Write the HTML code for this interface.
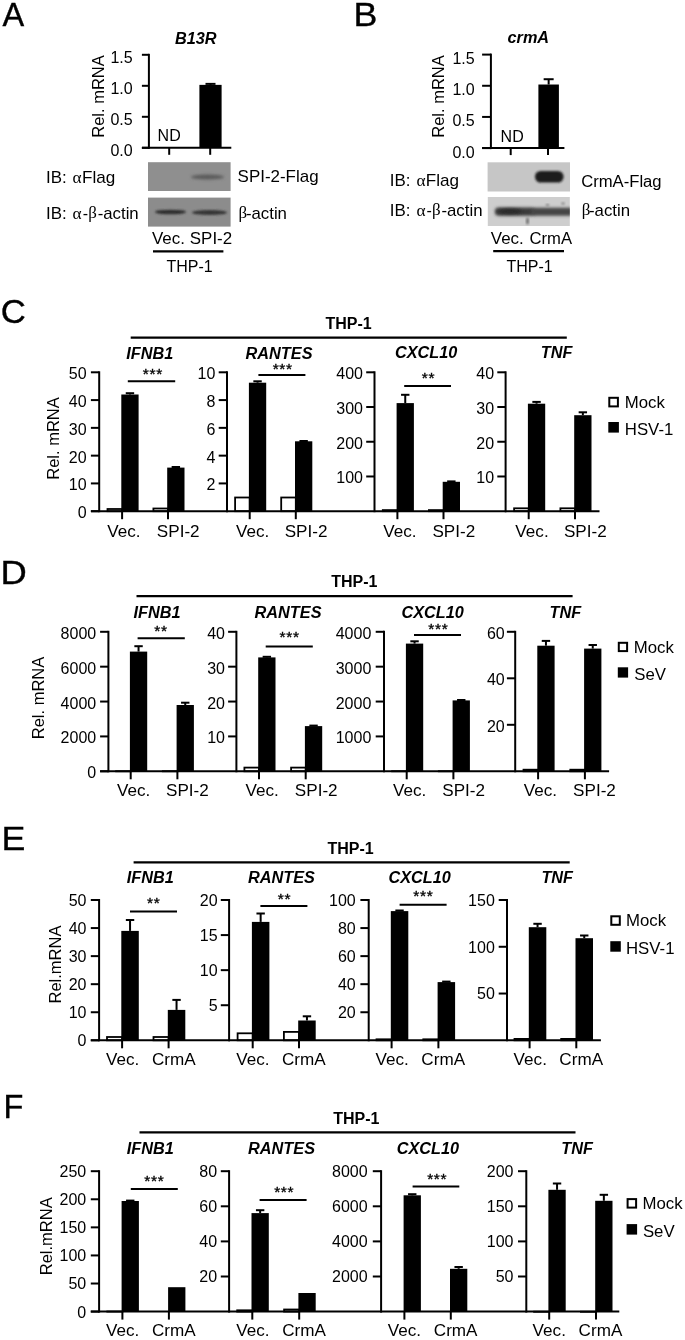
<!DOCTYPE html>
<html><head><meta charset="utf-8"><title>Figure</title>
<style>
html,body{margin:0;padding:0;background:#fff;}
svg{display:block;will-change:transform;}
svg text{font-family:"Liberation Sans",sans-serif;fill:#000;}
svg line{stroke:#000;}
</style></head><body>
<svg width="685" height="1340" viewBox="0 0 685 1340">
<defs>
<clipPath id="cpB2"><rect x="487.8" y="197" width="82" height="29"/></clipPath>
<filter id="bl10" x="-20%" y="-50%" width="140%" height="200%"><feGaussianBlur stdDeviation="1.0"/></filter>
<filter id="bl12" x="-20%" y="-50%" width="140%" height="200%"><feGaussianBlur stdDeviation="1.2"/></filter>
<filter id="bl15" x="-20%" y="-50%" width="140%" height="200%"><feGaussianBlur stdDeviation="1.5"/></filter>
</defs>
<rect width="685" height="1340" fill="#fff"/>
<text x="0" y="0" font-size="32.5" stroke="#000" stroke-width="0.35" transform="translate(2.6,26.4) scale(1.0,1)">A</text>
<text x="0" y="0" font-size="32.5" stroke="#000" stroke-width="0.35" transform="translate(353.4,26.0) scale(1.1,1)">B</text>
<text x="0" y="0" font-size="32.5" stroke="#000" stroke-width="0.35" transform="translate(0.8,323.2) scale(1.07,1)">C</text>
<text x="0" y="0" font-size="32.5" stroke="#000" stroke-width="0.35" transform="translate(0.6,584.4) scale(1.12,1)">D</text>
<text x="0" y="0" font-size="32.5" stroke="#000" stroke-width="0.35" transform="translate(1.6,849.8) scale(1.1,1)">E</text>
<text x="0" y="0" font-size="32.5" stroke="#000" stroke-width="0.35" transform="translate(3.4,1117.8) scale(1.0,1)">F</text>
<line x1="148.90" y1="53.80" x2="148.90" y2="148.80" stroke-width="2.0"/>
<line x1="141.90" y1="147.80" x2="148.90" y2="147.80" stroke-width="2.0"/>
<text x="132.70" y="156.40" font-size="16" text-anchor="end">0.0</text>
<line x1="141.90" y1="116.80" x2="148.90" y2="116.80" stroke-width="2.0"/>
<text x="132.70" y="125.40" font-size="16" text-anchor="end">0.5</text>
<line x1="141.90" y1="85.80" x2="148.90" y2="85.80" stroke-width="2.0"/>
<text x="132.70" y="94.40" font-size="16" text-anchor="end">1.0</text>
<line x1="141.90" y1="54.80" x2="148.90" y2="54.80" stroke-width="2.0"/>
<text x="132.70" y="63.40" font-size="16" text-anchor="end">1.5</text>
<line x1="141.90" y1="147.80" x2="231.30" y2="147.80" stroke-width="2.0"/>
<line x1="169.20" y1="147.80" x2="169.20" y2="154.80" stroke-width="2.0"/>
<line x1="210.20" y1="147.80" x2="210.20" y2="154.80" stroke-width="2.0"/>
<rect x="199.40" y="84.87" width="22.20" height="62.93" fill="#000" stroke="none"/>
<line x1="210.50" y1="83.88" x2="210.50" y2="84.87" stroke-width="2"/>
<line x1="205.50" y1="83.88" x2="215.50" y2="83.88" stroke-width="2"/>
<text x="157.60" y="141.00" font-size="16">ND</text>
<text x="0" y="0" transform="translate(174.90,43.80) scale(0.97,1)" font-size="16.8" font-weight="bold" font-style="italic">B13R</text>
<text x="0" y="0" font-size="16.5" text-anchor="middle" transform="translate(103.60,96.50) rotate(-90)">Rel. mRNA</text>
<line x1="490.90" y1="53.60" x2="490.90" y2="149.10" stroke-width="2.0"/>
<line x1="482.10" y1="148.10" x2="490.90" y2="148.10" stroke-width="2.0"/>
<text x="474.70" y="157.50" font-size="16" text-anchor="end">0.0</text>
<line x1="482.10" y1="116.93" x2="490.90" y2="116.93" stroke-width="2.0"/>
<text x="474.70" y="126.33" font-size="16" text-anchor="end">0.5</text>
<line x1="482.10" y1="85.77" x2="490.90" y2="85.77" stroke-width="2.0"/>
<text x="474.70" y="95.17" font-size="16" text-anchor="end">1.0</text>
<line x1="482.10" y1="54.60" x2="490.90" y2="54.60" stroke-width="2.0"/>
<text x="474.70" y="64.00" font-size="16" text-anchor="end">1.5</text>
<line x1="482.10" y1="148.10" x2="564.40" y2="148.10" stroke-width="2.0"/>
<line x1="510.70" y1="148.10" x2="510.70" y2="155.10" stroke-width="2.0"/>
<line x1="548.00" y1="148.10" x2="548.00" y2="155.10" stroke-width="2.0"/>
<rect x="538.40" y="84.52" width="20.50" height="63.58" fill="#000" stroke="none"/>
<line x1="548.65" y1="79.22" x2="548.65" y2="84.52" stroke-width="2"/>
<line x1="543.65" y1="79.22" x2="553.65" y2="79.22" stroke-width="2"/>
<text x="500.60" y="142.00" font-size="16">ND</text>
<text x="0" y="0" transform="translate(507.50,43.40) scale(0.97,1)" font-size="16.8" font-weight="bold" font-style="italic">crmA</text>
<text x="0" y="0" font-size="16.5" text-anchor="middle" transform="translate(444.30,96.50) rotate(-90)">Rel. mRNA</text>
<rect x="148.00" y="162.20" width="82.60" height="28.80" fill="#8f8f8f" stroke="none"/>
<ellipse cx="207.50" cy="177.00" rx="16.50" ry="2.60" fill="#5a5a5a" opacity="1.0" filter="url(#bl15)"/>
<rect x="148.00" y="197.60" width="82.60" height="29.00" fill="#8c8c8c" stroke="none"/>
<ellipse cx="170.50" cy="212.00" rx="15.50" ry="2.30" fill="#2e2e2e" opacity="1.0" filter="url(#bl12)"/>
<ellipse cx="209.50" cy="212.50" rx="17.50" ry="2.60" fill="#343434" opacity="1.0" filter="url(#bl12)"/>
<rect x="487.60" y="162.30" width="82.40" height="29.20" fill="#c6c6c6" stroke="none"/>
<rect x="535" y="171" width="28.5" height="11.5" rx="5.5" fill="#1e1e1e" filter="url(#bl12)"/>
<rect x="487.80" y="197.00" width="82.00" height="29.00" fill="#cecece" stroke="none"/>
<g clip-path="url(#cpB2)"><rect x="494.8" y="207.4" width="40" height="8.4" rx="4" fill="#3a3a3a" filter="url(#bl15)"/><rect x="531" y="207.8" width="45" height="8.0" rx="4" fill="#444" filter="url(#bl15)"/><ellipse cx="510" cy="211.4" rx="12" ry="2.6" fill="#2c2c2c" filter="url(#bl15)"/><ellipse cx="527.5" cy="221" rx="1.3" ry="3.5" fill="#666" filter="url(#bl10)"/><ellipse cx="547.5" cy="205" rx="1.8" ry="0.9" fill="#777" filter="url(#bl10)"/><ellipse cx="563" cy="203.5" rx="1.8" ry="1" fill="#777" filter="url(#bl10)"/></g>
<text x="0" y="0" transform="translate(46.00,182.60) scale(1.06,1)" font-size="16">IB:</text>
<text x="72.60" y="182.60" font-size="17.3" style="font-family:'Liberation Serif',serif">α</text>
<text x="0" y="0" transform="translate(82.00,182.60) scale(1.07,1)" font-size="16">Flag</text>
<text x="0" y="0" transform="translate(46.00,218.60) scale(1.06,1)" font-size="16">IB:</text>
<text x="72.60" y="218.60" font-size="17.3" style="font-family:'Liberation Serif',serif">α</text>
<text x="82.80" y="218.60" font-size="16">-</text>
<text x="88.30" y="217.80" font-size="17.0" style="font-family:'Liberation Serif',serif">β</text>
<text x="0" y="0" transform="translate(97.65,218.60) scale(1.05,1)" font-size="16">-actin</text>
<text x="238.60" y="217.80" font-size="17.0" style="font-family:'Liberation Serif',serif">β</text>
<text x="0" y="0" transform="translate(245.90,218.60) scale(1.05,1)" font-size="16">-actin</text>
<text x="0" y="0" transform="translate(389.80,185.60) scale(1.06,1)" font-size="16">IB:</text>
<text x="416.40" y="185.60" font-size="17.3" style="font-family:'Liberation Serif',serif">α</text>
<text x="0" y="0" transform="translate(425.80,185.60) scale(1.07,1)" font-size="16">Flag</text>
<text x="0" y="0" transform="translate(389.80,216.10) scale(1.06,1)" font-size="16">IB:</text>
<text x="416.40" y="216.10" font-size="17.3" style="font-family:'Liberation Serif',serif">α</text>
<text x="426.60" y="216.10" font-size="16">-</text>
<text x="432.10" y="215.30" font-size="17.0" style="font-family:'Liberation Serif',serif">β</text>
<text x="0" y="0" transform="translate(441.45,216.10) scale(1.05,1)" font-size="16">-actin</text>
<text x="581.70" y="215.20" font-size="17.0" style="font-family:'Liberation Serif',serif">β</text>
<text x="0" y="0" transform="translate(589.00,216.00) scale(1.05,1)" font-size="16">-actin</text>
<text x="0" y="0" transform="translate(237.60,182.40) scale(1.06,1)" font-size="16">SPI-2-Flag</text>
<text x="0" y="0" transform="translate(152.00,244.00) scale(1.06,1)" font-size="16">Vec.</text>
<text x="0" y="0" transform="translate(189.80,244.00) scale(1.06,1)" font-size="16">SPI-2</text>
<line x1="153.00" y1="251.40" x2="223.40" y2="251.40" stroke-width="2.2"/>
<text x="166.50" y="272.40" font-size="16">THP-1</text>
<text x="0" y="0" transform="translate(581.20,187.00) scale(1.04,1)" font-size="16">CrmA-Flag</text>
<text x="0" y="0" transform="translate(490.80,244.00) scale(1.06,1)" font-size="16">Vec.</text>
<text x="0" y="0" transform="translate(529.50,244.00) scale(1.04,1)" font-size="16">CrmA</text>
<line x1="493.20" y1="251.20" x2="564.00" y2="251.20" stroke-width="2.2"/>
<text x="506.50" y="272.40" font-size="16">THP-1</text>
<line x1="130.70" y1="337.60" x2="566.80" y2="337.60" stroke-width="2.2"/>
<text x="325.50" y="328.60" font-size="16" font-weight="bold">THP-1</text>
<rect x="107.50" y="509.00" width="14.60" height="2.20" fill="#fff" stroke="#000" stroke-width="1.8"/>
<rect x="121.30" y="394.50" width="17.30" height="116.70" fill="#000" stroke="none"/>
<line x1="129.95" y1="393.20" x2="129.95" y2="394.50" stroke-width="2"/>
<line x1="125.75" y1="393.20" x2="134.15" y2="393.20" stroke-width="2"/>
<line x1="122.10" y1="511.20" x2="122.10" y2="519.20" stroke-width="2.0"/>
<rect x="153.40" y="508.50" width="14.60" height="2.70" fill="#fff" stroke="#000" stroke-width="1.8"/>
<rect x="167.20" y="467.60" width="17.30" height="43.60" fill="#000" stroke="none"/>
<line x1="175.85" y1="467.00" x2="175.85" y2="467.60" stroke-width="2"/>
<line x1="171.65" y1="467.00" x2="180.05" y2="467.00" stroke-width="2"/>
<line x1="168.00" y1="511.20" x2="168.00" y2="519.20" stroke-width="2.0"/>
<line x1="99.20" y1="371.30" x2="99.20" y2="512.20" stroke-width="2.0"/>
<line x1="90.90" y1="511.20" x2="99.20" y2="511.20" stroke-width="2.0"/>
<text x="86.60" y="518.20" font-size="16" text-anchor="end">0</text>
<line x1="90.90" y1="483.42" x2="99.20" y2="483.42" stroke-width="2.0"/>
<text x="86.60" y="490.42" font-size="16" text-anchor="end">10</text>
<line x1="90.90" y1="455.64" x2="99.20" y2="455.64" stroke-width="2.0"/>
<text x="86.60" y="462.64" font-size="16" text-anchor="end">20</text>
<line x1="90.90" y1="427.86" x2="99.20" y2="427.86" stroke-width="2.0"/>
<text x="86.60" y="434.86" font-size="16" text-anchor="end">30</text>
<line x1="90.90" y1="400.08" x2="99.20" y2="400.08" stroke-width="2.0"/>
<text x="86.60" y="407.08" font-size="16" text-anchor="end">40</text>
<line x1="90.90" y1="372.30" x2="99.20" y2="372.30" stroke-width="2.0"/>
<text x="86.60" y="379.30" font-size="16" text-anchor="end">50</text>
<line x1="90.90" y1="511.20" x2="227.00" y2="511.20" stroke-width="2.0"/>
<text x="0" y="0" transform="translate(126.30,358.60) scale(0.97,1)" font-size="16.8" font-weight="bold" font-style="italic">IFNB1</text>
<line x1="127.80" y1="381.20" x2="175.20" y2="381.20" stroke-width="2"/>
<text x="152.85" y="379.40" font-size="15.5" text-anchor="middle" letter-spacing="0.7" stroke="#000" stroke-width="0.35">***</text>
<text x="0" y="0" transform="translate(123.85,536.50) scale(1.07,1)" font-size="16" text-anchor="middle">Vec.</text>
<text x="0" y="0" transform="translate(178.20,536.50) scale(1.07,1)" font-size="16" text-anchor="middle">SPI-2</text>
<rect x="235.10" y="497.50" width="14.60" height="13.70" fill="#fff" stroke="#000" stroke-width="1.8"/>
<rect x="248.90" y="382.70" width="17.30" height="128.50" fill="#000" stroke="none"/>
<line x1="257.55" y1="381.30" x2="257.55" y2="382.70" stroke-width="2"/>
<line x1="253.35" y1="381.30" x2="261.75" y2="381.30" stroke-width="2"/>
<line x1="249.70" y1="511.20" x2="249.70" y2="519.20" stroke-width="2.0"/>
<rect x="281.20" y="497.50" width="14.60" height="13.70" fill="#fff" stroke="#000" stroke-width="1.8"/>
<rect x="295.00" y="441.30" width="17.30" height="69.90" fill="#000" stroke="none"/>
<line x1="303.65" y1="441.00" x2="303.65" y2="441.30" stroke-width="2"/>
<line x1="299.45" y1="441.00" x2="307.85" y2="441.00" stroke-width="2"/>
<line x1="295.80" y1="511.20" x2="295.80" y2="519.20" stroke-width="2.0"/>
<line x1="227.00" y1="371.30" x2="227.00" y2="512.20" stroke-width="2.0"/>
<line x1="218.70" y1="483.42" x2="227.00" y2="483.42" stroke-width="2.0"/>
<text x="215.40" y="490.42" font-size="16" text-anchor="end">2</text>
<line x1="218.70" y1="455.64" x2="227.00" y2="455.64" stroke-width="2.0"/>
<text x="215.40" y="462.64" font-size="16" text-anchor="end">4</text>
<line x1="218.70" y1="427.86" x2="227.00" y2="427.86" stroke-width="2.0"/>
<text x="215.40" y="434.86" font-size="16" text-anchor="end">6</text>
<line x1="218.70" y1="400.08" x2="227.00" y2="400.08" stroke-width="2.0"/>
<text x="215.40" y="407.08" font-size="16" text-anchor="end">8</text>
<line x1="218.70" y1="372.30" x2="227.00" y2="372.30" stroke-width="2.0"/>
<text x="215.40" y="379.30" font-size="16" text-anchor="end">10</text>
<line x1="227.00" y1="511.20" x2="374.50" y2="511.20" stroke-width="2.0"/>
<text x="0" y="0" transform="translate(245.60,358.60) scale(0.97,1)" font-size="16.8" font-weight="bold" font-style="italic">RANTES</text>
<line x1="258.40" y1="374.90" x2="305.40" y2="374.90" stroke-width="2"/>
<text x="282.75" y="373.50" font-size="15.5" text-anchor="middle" letter-spacing="0.7" stroke="#000" stroke-width="0.35">***</text>
<text x="0" y="0" transform="translate(252.55,536.50) scale(1.07,1)" font-size="16" text-anchor="middle">Vec.</text>
<text x="0" y="0" transform="translate(306.00,536.50) scale(1.07,1)" font-size="16" text-anchor="middle">SPI-2</text>
<rect x="382.80" y="510.10" width="14.60" height="1.10" fill="#fff" stroke="#000" stroke-width="1.8"/>
<rect x="396.60" y="403.10" width="17.30" height="108.10" fill="#000" stroke="none"/>
<line x1="405.25" y1="394.80" x2="405.25" y2="403.10" stroke-width="2"/>
<line x1="401.05" y1="394.80" x2="409.45" y2="394.80" stroke-width="2"/>
<line x1="397.40" y1="511.20" x2="397.40" y2="519.20" stroke-width="2.0"/>
<rect x="428.90" y="510.10" width="14.60" height="1.10" fill="#fff" stroke="#000" stroke-width="1.8"/>
<rect x="442.70" y="481.80" width="17.30" height="29.40" fill="#000" stroke="none"/>
<line x1="451.35" y1="481.40" x2="451.35" y2="481.80" stroke-width="2"/>
<line x1="447.15" y1="481.40" x2="455.55" y2="481.40" stroke-width="2"/>
<line x1="443.50" y1="511.20" x2="443.50" y2="519.20" stroke-width="2.0"/>
<line x1="374.50" y1="371.30" x2="374.50" y2="512.20" stroke-width="2.0"/>
<line x1="366.20" y1="476.48" x2="374.50" y2="476.48" stroke-width="2.0"/>
<text x="363.00" y="483.48" font-size="16" text-anchor="end">100</text>
<line x1="366.20" y1="441.75" x2="374.50" y2="441.75" stroke-width="2.0"/>
<text x="363.00" y="448.75" font-size="16" text-anchor="end">200</text>
<line x1="366.20" y1="407.02" x2="374.50" y2="407.02" stroke-width="2.0"/>
<text x="363.00" y="414.02" font-size="16" text-anchor="end">300</text>
<line x1="366.20" y1="372.30" x2="374.50" y2="372.30" stroke-width="2.0"/>
<text x="363.00" y="379.30" font-size="16" text-anchor="end">400</text>
<line x1="374.50" y1="511.20" x2="506.00" y2="511.20" stroke-width="2.0"/>
<text x="0" y="0" transform="translate(394.90,358.40) scale(0.97,1)" font-size="16.8" font-weight="bold" font-style="italic">CXCL10</text>
<line x1="404.20" y1="386.00" x2="451.00" y2="386.00" stroke-width="2"/>
<text x="428.45" y="383.10" font-size="15.5" text-anchor="middle" letter-spacing="0.7" stroke="#000" stroke-width="0.35">**</text>
<text x="0" y="0" transform="translate(399.85,536.50) scale(1.07,1)" font-size="16" text-anchor="middle">Vec.</text>
<text x="0" y="0" transform="translate(453.75,536.50) scale(1.07,1)" font-size="16" text-anchor="middle">SPI-2</text>
<rect x="514.10" y="508.30" width="14.60" height="2.90" fill="#fff" stroke="#000" stroke-width="1.8"/>
<rect x="527.90" y="403.70" width="17.30" height="107.50" fill="#000" stroke="none"/>
<line x1="536.55" y1="401.90" x2="536.55" y2="403.70" stroke-width="2"/>
<line x1="532.35" y1="401.90" x2="540.75" y2="401.90" stroke-width="2"/>
<line x1="528.70" y1="511.20" x2="528.70" y2="519.20" stroke-width="2.0"/>
<rect x="560.40" y="508.30" width="14.60" height="2.90" fill="#fff" stroke="#000" stroke-width="1.8"/>
<rect x="574.20" y="415.20" width="17.30" height="96.00" fill="#000" stroke="none"/>
<line x1="582.85" y1="412.30" x2="582.85" y2="415.20" stroke-width="2"/>
<line x1="578.65" y1="412.30" x2="587.05" y2="412.30" stroke-width="2"/>
<line x1="575.00" y1="511.20" x2="575.00" y2="519.20" stroke-width="2.0"/>
<line x1="505.60" y1="371.30" x2="505.60" y2="512.20" stroke-width="2.0"/>
<line x1="497.30" y1="476.48" x2="505.60" y2="476.48" stroke-width="2.0"/>
<text x="494.10" y="483.48" font-size="16" text-anchor="end">10</text>
<line x1="497.30" y1="441.75" x2="505.60" y2="441.75" stroke-width="2.0"/>
<text x="494.10" y="448.75" font-size="16" text-anchor="end">20</text>
<line x1="497.30" y1="407.02" x2="505.60" y2="407.02" stroke-width="2.0"/>
<text x="494.10" y="414.02" font-size="16" text-anchor="end">30</text>
<line x1="497.30" y1="372.30" x2="505.60" y2="372.30" stroke-width="2.0"/>
<text x="494.10" y="379.30" font-size="16" text-anchor="end">40</text>
<line x1="505.60" y1="511.20" x2="599.50" y2="511.20" stroke-width="2.0"/>
<text x="0" y="0" transform="translate(540.80,358.40) scale(0.97,1)" font-size="16.8" font-weight="bold" font-style="italic">TNF</text>
<text x="0" y="0" transform="translate(532.00,536.50) scale(1.07,1)" font-size="16" text-anchor="middle">Vec.</text>
<text x="0" y="0" transform="translate(585.30,536.50) scale(1.07,1)" font-size="16" text-anchor="middle">SPI-2</text>
<text x="0" y="0" font-size="16.5" text-anchor="middle" transform="translate(58.50,438.50) rotate(-90)">Rel. mRNA</text>
<rect x="609.30" y="397.80" width="8.60" height="8.60" fill="#fff" stroke="#000" stroke-width="2"/>
<text x="0" y="0" transform="translate(624.80,407.50) scale(1.05,1)" font-size="16">Mock</text>
<rect x="608.30" y="422.00" width="10.60" height="10.60" fill="#000" stroke="none"/>
<text x="0" y="0" transform="translate(624.80,435.00) scale(1.05,1)" font-size="16">HSV-1</text>
<line x1="136.50" y1="596.20" x2="572.60" y2="596.20" stroke-width="2.2"/>
<text x="331.20" y="587.00" font-size="16" font-weight="bold">THP-1</text>
<rect x="116.10" y="771.20" width="14.60" height="0.10" fill="#fff" stroke="#000" stroke-width="1.8"/>
<rect x="129.90" y="651.60" width="17.30" height="119.70" fill="#000" stroke="none"/>
<line x1="138.55" y1="646.20" x2="138.55" y2="651.60" stroke-width="2"/>
<line x1="134.35" y1="646.20" x2="142.75" y2="646.20" stroke-width="2"/>
<line x1="130.70" y1="771.30" x2="130.70" y2="779.30" stroke-width="2.0"/>
<rect x="162.80" y="771.20" width="14.60" height="0.10" fill="#fff" stroke="#000" stroke-width="1.8"/>
<rect x="176.60" y="705.00" width="17.30" height="66.30" fill="#000" stroke="none"/>
<line x1="185.25" y1="702.70" x2="185.25" y2="705.00" stroke-width="2"/>
<line x1="181.05" y1="702.70" x2="189.45" y2="702.70" stroke-width="2"/>
<line x1="177.40" y1="771.30" x2="177.40" y2="779.30" stroke-width="2.0"/>
<line x1="108.40" y1="630.80" x2="108.40" y2="772.30" stroke-width="2.0"/>
<line x1="100.10" y1="771.30" x2="108.40" y2="771.30" stroke-width="2.0"/>
<text x="96.20" y="778.30" font-size="16" text-anchor="end">0</text>
<line x1="100.10" y1="736.42" x2="108.40" y2="736.42" stroke-width="2.0"/>
<text x="96.20" y="743.42" font-size="16" text-anchor="end">2000</text>
<line x1="100.10" y1="701.55" x2="108.40" y2="701.55" stroke-width="2.0"/>
<text x="96.20" y="708.55" font-size="16" text-anchor="end">4000</text>
<line x1="100.10" y1="666.67" x2="108.40" y2="666.67" stroke-width="2.0"/>
<text x="96.20" y="673.67" font-size="16" text-anchor="end">6000</text>
<line x1="100.10" y1="631.80" x2="108.40" y2="631.80" stroke-width="2.0"/>
<text x="96.20" y="638.80" font-size="16" text-anchor="end">8000</text>
<line x1="100.10" y1="771.30" x2="236.40" y2="771.30" stroke-width="2.0"/>
<text x="0" y="0" transform="translate(133.60,617.60) scale(0.97,1)" font-size="16.8" font-weight="bold" font-style="italic">IFNB1</text>
<line x1="137.60" y1="638.20" x2="184.80" y2="638.20" stroke-width="2"/>
<text x="161.05" y="636.40" font-size="15.5" text-anchor="middle" letter-spacing="0.7" stroke="#000" stroke-width="0.35">**</text>
<text x="0" y="0" transform="translate(133.65,796.00) scale(1.07,1)" font-size="16" text-anchor="middle">Vec.</text>
<text x="0" y="0" transform="translate(187.35,796.00) scale(1.07,1)" font-size="16" text-anchor="middle">SPI-2</text>
<rect x="244.40" y="767.60" width="14.60" height="3.70" fill="#fff" stroke="#000" stroke-width="1.8"/>
<rect x="258.20" y="657.40" width="17.30" height="113.90" fill="#000" stroke="none"/>
<line x1="266.85" y1="656.80" x2="266.85" y2="657.40" stroke-width="2"/>
<line x1="262.65" y1="656.80" x2="271.05" y2="656.80" stroke-width="2"/>
<line x1="259.00" y1="771.30" x2="259.00" y2="779.30" stroke-width="2.0"/>
<rect x="291.10" y="767.60" width="14.60" height="3.70" fill="#fff" stroke="#000" stroke-width="1.8"/>
<rect x="304.90" y="726.10" width="17.30" height="45.20" fill="#000" stroke="none"/>
<line x1="313.55" y1="725.60" x2="313.55" y2="726.10" stroke-width="2"/>
<line x1="309.35" y1="725.60" x2="317.75" y2="725.60" stroke-width="2"/>
<line x1="305.70" y1="771.30" x2="305.70" y2="779.30" stroke-width="2.0"/>
<line x1="236.40" y1="630.80" x2="236.40" y2="772.30" stroke-width="2.0"/>
<line x1="228.10" y1="736.42" x2="236.40" y2="736.42" stroke-width="2.0"/>
<text x="225.00" y="743.42" font-size="16" text-anchor="end">10</text>
<line x1="228.10" y1="701.55" x2="236.40" y2="701.55" stroke-width="2.0"/>
<text x="225.00" y="708.55" font-size="16" text-anchor="end">20</text>
<line x1="228.10" y1="666.67" x2="236.40" y2="666.67" stroke-width="2.0"/>
<text x="225.00" y="673.67" font-size="16" text-anchor="end">30</text>
<line x1="228.10" y1="631.80" x2="236.40" y2="631.80" stroke-width="2.0"/>
<text x="225.00" y="638.80" font-size="16" text-anchor="end">40</text>
<line x1="236.40" y1="771.30" x2="384.00" y2="771.30" stroke-width="2.0"/>
<text x="0" y="0" transform="translate(254.60,617.50) scale(0.97,1)" font-size="16.8" font-weight="bold" font-style="italic">RANTES</text>
<line x1="265.70" y1="646.50" x2="312.80" y2="646.50" stroke-width="2"/>
<text x="289.55" y="642.10" font-size="15.5" text-anchor="middle" letter-spacing="0.7" stroke="#000" stroke-width="0.35">***</text>
<text x="0" y="0" transform="translate(262.10,796.00) scale(1.07,1)" font-size="16" text-anchor="middle">Vec.</text>
<text x="0" y="0" transform="translate(316.20,796.00) scale(1.07,1)" font-size="16" text-anchor="middle">SPI-2</text>
<rect x="392.10" y="771.20" width="14.60" height="0.10" fill="#fff" stroke="#000" stroke-width="1.8"/>
<rect x="405.90" y="643.60" width="17.30" height="127.70" fill="#000" stroke="none"/>
<line x1="414.55" y1="641.30" x2="414.55" y2="643.60" stroke-width="2"/>
<line x1="410.35" y1="641.30" x2="418.75" y2="641.30" stroke-width="2"/>
<line x1="406.70" y1="771.30" x2="406.70" y2="779.30" stroke-width="2.0"/>
<rect x="438.80" y="771.20" width="14.60" height="0.10" fill="#fff" stroke="#000" stroke-width="1.8"/>
<rect x="452.60" y="700.40" width="17.30" height="70.90" fill="#000" stroke="none"/>
<line x1="461.25" y1="700.00" x2="461.25" y2="700.40" stroke-width="2"/>
<line x1="457.05" y1="700.00" x2="465.45" y2="700.00" stroke-width="2"/>
<line x1="453.40" y1="771.30" x2="453.40" y2="779.30" stroke-width="2.0"/>
<line x1="384.00" y1="630.80" x2="384.00" y2="772.30" stroke-width="2.0"/>
<line x1="375.70" y1="736.42" x2="384.00" y2="736.42" stroke-width="2.0"/>
<text x="371.30" y="743.42" font-size="16" text-anchor="end">1000</text>
<line x1="375.70" y1="701.55" x2="384.00" y2="701.55" stroke-width="2.0"/>
<text x="371.30" y="708.55" font-size="16" text-anchor="end">2000</text>
<line x1="375.70" y1="666.67" x2="384.00" y2="666.67" stroke-width="2.0"/>
<text x="371.30" y="673.67" font-size="16" text-anchor="end">3000</text>
<line x1="375.70" y1="631.80" x2="384.00" y2="631.80" stroke-width="2.0"/>
<text x="371.30" y="638.80" font-size="16" text-anchor="end">4000</text>
<line x1="384.00" y1="771.30" x2="515.20" y2="771.30" stroke-width="2.0"/>
<text x="0" y="0" transform="translate(401.50,617.50) scale(0.97,1)" font-size="16.8" font-weight="bold" font-style="italic">CXCL10</text>
<line x1="414.00" y1="635.10" x2="461.00" y2="635.10" stroke-width="2"/>
<text x="438.45" y="633.50" font-size="15.5" text-anchor="middle" letter-spacing="0.7" stroke="#000" stroke-width="0.35">***</text>
<text x="0" y="0" transform="translate(409.65,796.00) scale(1.07,1)" font-size="16" text-anchor="middle">Vec.</text>
<text x="0" y="0" transform="translate(463.65,796.00) scale(1.07,1)" font-size="16" text-anchor="middle">SPI-2</text>
<rect x="523.50" y="769.70" width="14.60" height="1.60" fill="#fff" stroke="#000" stroke-width="1.8"/>
<rect x="537.30" y="645.70" width="17.30" height="125.60" fill="#000" stroke="none"/>
<line x1="545.95" y1="640.90" x2="545.95" y2="645.70" stroke-width="2"/>
<line x1="541.75" y1="640.90" x2="550.15" y2="640.90" stroke-width="2"/>
<line x1="538.10" y1="771.30" x2="538.10" y2="779.30" stroke-width="2.0"/>
<rect x="570.30" y="769.70" width="14.60" height="1.60" fill="#fff" stroke="#000" stroke-width="1.8"/>
<rect x="584.10" y="648.60" width="17.30" height="122.70" fill="#000" stroke="none"/>
<line x1="592.75" y1="645.00" x2="592.75" y2="648.60" stroke-width="2"/>
<line x1="588.55" y1="645.00" x2="596.95" y2="645.00" stroke-width="2"/>
<line x1="584.90" y1="771.30" x2="584.90" y2="779.30" stroke-width="2.0"/>
<line x1="515.20" y1="630.80" x2="515.20" y2="772.30" stroke-width="2.0"/>
<line x1="506.90" y1="724.80" x2="515.20" y2="724.80" stroke-width="2.0"/>
<text x="504.70" y="731.80" font-size="16" text-anchor="end">20</text>
<line x1="506.90" y1="678.30" x2="515.20" y2="678.30" stroke-width="2.0"/>
<text x="504.70" y="685.30" font-size="16" text-anchor="end">40</text>
<line x1="506.90" y1="631.80" x2="515.20" y2="631.80" stroke-width="2.0"/>
<text x="504.70" y="638.80" font-size="16" text-anchor="end">60</text>
<line x1="515.20" y1="771.30" x2="609.10" y2="771.30" stroke-width="2.0"/>
<text x="0" y="0" transform="translate(549.50,617.50) scale(0.97,1)" font-size="16.8" font-weight="bold" font-style="italic">TNF</text>
<text x="0" y="0" transform="translate(540.45,796.00) scale(1.07,1)" font-size="16" text-anchor="middle">Vec.</text>
<text x="0" y="0" transform="translate(594.45,796.00) scale(1.07,1)" font-size="16" text-anchor="middle">SPI-2</text>
<text x="0" y="0" font-size="16.5" text-anchor="middle" transform="translate(44.30,698.00) rotate(-90)">Rel. mRNA</text>
<rect x="618.80" y="642.80" width="8.30" height="8.30" fill="#fff" stroke="#000" stroke-width="2"/>
<text x="0" y="0" transform="translate(633.80,652.50) scale(1.05,1)" font-size="16">Mock</text>
<rect x="617.80" y="667.30" width="10.30" height="10.30" fill="#000" stroke="none"/>
<text x="0" y="0" transform="translate(634.20,679.90) scale(1.05,1)" font-size="16">SeV</text>
<line x1="133.60" y1="862.30" x2="569.70" y2="862.30" stroke-width="2.2"/>
<text x="327.50" y="853.60" font-size="16" font-weight="bold">THP-1</text>
<rect x="107.00" y="1037.00" width="15.10" height="3.30" fill="#fff" stroke="#000" stroke-width="1.8"/>
<rect x="121.30" y="930.90" width="17.50" height="109.40" fill="#000" stroke="none"/>
<line x1="130.05" y1="920.00" x2="130.05" y2="930.90" stroke-width="2"/>
<line x1="125.85" y1="920.00" x2="134.25" y2="920.00" stroke-width="2"/>
<line x1="122.10" y1="1040.30" x2="122.10" y2="1048.30" stroke-width="2.0"/>
<rect x="153.50" y="1037.00" width="15.10" height="3.30" fill="#fff" stroke="#000" stroke-width="1.8"/>
<rect x="167.80" y="1009.90" width="17.50" height="30.40" fill="#000" stroke="none"/>
<line x1="176.55" y1="999.90" x2="176.55" y2="1009.90" stroke-width="2"/>
<line x1="172.35" y1="999.90" x2="180.75" y2="999.90" stroke-width="2"/>
<line x1="168.60" y1="1040.30" x2="168.60" y2="1048.30" stroke-width="2.0"/>
<line x1="99.10" y1="899.00" x2="99.10" y2="1041.30" stroke-width="2.0"/>
<line x1="90.80" y1="1040.30" x2="99.10" y2="1040.30" stroke-width="2.0"/>
<text x="86.50" y="1046.10" font-size="16" text-anchor="end">0</text>
<line x1="90.80" y1="1012.24" x2="99.10" y2="1012.24" stroke-width="2.0"/>
<text x="86.50" y="1018.04" font-size="16" text-anchor="end">10</text>
<line x1="90.80" y1="984.18" x2="99.10" y2="984.18" stroke-width="2.0"/>
<text x="86.50" y="989.98" font-size="16" text-anchor="end">20</text>
<line x1="90.80" y1="956.12" x2="99.10" y2="956.12" stroke-width="2.0"/>
<text x="86.50" y="961.92" font-size="16" text-anchor="end">30</text>
<line x1="90.80" y1="928.06" x2="99.10" y2="928.06" stroke-width="2.0"/>
<text x="86.50" y="933.86" font-size="16" text-anchor="end">40</text>
<line x1="90.80" y1="900.00" x2="99.10" y2="900.00" stroke-width="2.0"/>
<text x="86.50" y="905.80" font-size="16" text-anchor="end">50</text>
<line x1="90.80" y1="1040.30" x2="229.40" y2="1040.30" stroke-width="2.0"/>
<text x="0" y="0" transform="translate(126.70,883.40) scale(0.97,1)" font-size="16.8" font-weight="bold" font-style="italic">IFNB1</text>
<line x1="130.00" y1="911.40" x2="177.00" y2="911.40" stroke-width="2"/>
<text x="153.85" y="908.40" font-size="15.5" text-anchor="middle" letter-spacing="0.7" stroke="#000" stroke-width="0.35">**</text>
<text x="0" y="0" transform="translate(122.55,1065.00) scale(1.07,1)" font-size="16" text-anchor="middle">Vec.</text>
<text x="0" y="0" transform="translate(173.80,1065.00) scale(1.07,1)" font-size="16" text-anchor="middle">CrmA</text>
<rect x="237.60" y="1033.30" width="15.10" height="7.00" fill="#fff" stroke="#000" stroke-width="1.8"/>
<rect x="251.90" y="921.90" width="17.50" height="118.40" fill="#000" stroke="none"/>
<line x1="260.65" y1="913.50" x2="260.65" y2="921.90" stroke-width="2"/>
<line x1="256.45" y1="913.50" x2="264.85" y2="913.50" stroke-width="2"/>
<line x1="252.70" y1="1040.30" x2="252.70" y2="1048.30" stroke-width="2.0"/>
<rect x="283.90" y="1031.90" width="15.10" height="8.40" fill="#fff" stroke="#000" stroke-width="1.8"/>
<rect x="298.20" y="1020.50" width="17.50" height="19.80" fill="#000" stroke="none"/>
<line x1="306.95" y1="1016.30" x2="306.95" y2="1020.50" stroke-width="2"/>
<line x1="302.75" y1="1016.30" x2="311.15" y2="1016.30" stroke-width="2"/>
<line x1="299.00" y1="1040.30" x2="299.00" y2="1048.30" stroke-width="2.0"/>
<line x1="229.10" y1="899.00" x2="229.10" y2="1041.30" stroke-width="2.0"/>
<line x1="220.80" y1="1005.22" x2="229.10" y2="1005.22" stroke-width="2.0"/>
<text x="217.60" y="1011.02" font-size="16" text-anchor="end">5</text>
<line x1="220.80" y1="970.15" x2="229.10" y2="970.15" stroke-width="2.0"/>
<text x="217.60" y="975.95" font-size="16" text-anchor="end">10</text>
<line x1="220.80" y1="935.08" x2="229.10" y2="935.08" stroke-width="2.0"/>
<text x="217.60" y="940.88" font-size="16" text-anchor="end">15</text>
<line x1="220.80" y1="900.00" x2="229.10" y2="900.00" stroke-width="2.0"/>
<text x="217.60" y="905.80" font-size="16" text-anchor="end">20</text>
<line x1="229.10" y1="1040.30" x2="368.70" y2="1040.30" stroke-width="2.0"/>
<text x="0" y="0" transform="translate(248.00,883.40) scale(0.97,1)" font-size="16.8" font-weight="bold" font-style="italic">RANTES</text>
<line x1="260.40" y1="906.10" x2="307.40" y2="906.10" stroke-width="2"/>
<text x="284.45" y="903.60" font-size="15.5" text-anchor="middle" letter-spacing="0.7" stroke="#000" stroke-width="0.35">**</text>
<text x="0" y="0" transform="translate(252.80,1065.00) scale(1.07,1)" font-size="16" text-anchor="middle">Vec.</text>
<text x="0" y="0" transform="translate(303.80,1065.00) scale(1.07,1)" font-size="16" text-anchor="middle">CrmA</text>
<rect x="376.50" y="1039.30" width="15.10" height="1.00" fill="#fff" stroke="#000" stroke-width="1.8"/>
<rect x="390.80" y="911.10" width="17.50" height="129.20" fill="#000" stroke="none"/>
<line x1="399.55" y1="910.50" x2="399.55" y2="911.10" stroke-width="2"/>
<line x1="395.35" y1="910.50" x2="403.75" y2="910.50" stroke-width="2"/>
<line x1="391.60" y1="1040.30" x2="391.60" y2="1048.30" stroke-width="2.0"/>
<rect x="423.30" y="1039.30" width="15.10" height="1.00" fill="#fff" stroke="#000" stroke-width="1.8"/>
<rect x="437.60" y="982.10" width="17.50" height="58.20" fill="#000" stroke="none"/>
<line x1="446.35" y1="981.60" x2="446.35" y2="982.10" stroke-width="2"/>
<line x1="442.15" y1="981.60" x2="450.55" y2="981.60" stroke-width="2"/>
<line x1="438.40" y1="1040.30" x2="438.40" y2="1048.30" stroke-width="2.0"/>
<line x1="368.70" y1="899.00" x2="368.70" y2="1041.30" stroke-width="2.0"/>
<line x1="360.40" y1="1012.24" x2="368.70" y2="1012.24" stroke-width="2.0"/>
<text x="355.70" y="1018.04" font-size="16" text-anchor="end">20</text>
<line x1="360.40" y1="984.18" x2="368.70" y2="984.18" stroke-width="2.0"/>
<text x="355.70" y="989.98" font-size="16" text-anchor="end">40</text>
<line x1="360.40" y1="956.12" x2="368.70" y2="956.12" stroke-width="2.0"/>
<text x="355.70" y="961.92" font-size="16" text-anchor="end">60</text>
<line x1="360.40" y1="928.06" x2="368.70" y2="928.06" stroke-width="2.0"/>
<text x="355.70" y="933.86" font-size="16" text-anchor="end">80</text>
<line x1="360.40" y1="900.00" x2="368.70" y2="900.00" stroke-width="2.0"/>
<text x="355.70" y="905.80" font-size="16" text-anchor="end">100</text>
<line x1="368.70" y1="1040.30" x2="507.00" y2="1040.30" stroke-width="2.0"/>
<text x="0" y="0" transform="translate(388.50,883.40) scale(0.97,1)" font-size="16.8" font-weight="bold" font-style="italic">CXCL10</text>
<line x1="399.60" y1="904.70" x2="446.60" y2="904.70" stroke-width="2"/>
<text x="423.45" y="900.60" font-size="15.5" text-anchor="middle" letter-spacing="0.7" stroke="#000" stroke-width="0.35">***</text>
<text x="0" y="0" transform="translate(392.10,1065.00) scale(1.07,1)" font-size="16" text-anchor="middle">Vec.</text>
<text x="0" y="0" transform="translate(443.20,1065.00) scale(1.07,1)" font-size="16" text-anchor="middle">CrmA</text>
<rect x="514.50" y="1038.90" width="15.10" height="1.40" fill="#fff" stroke="#000" stroke-width="1.8"/>
<rect x="528.80" y="927.20" width="17.50" height="113.10" fill="#000" stroke="none"/>
<line x1="537.55" y1="923.80" x2="537.55" y2="927.20" stroke-width="2"/>
<line x1="533.35" y1="923.80" x2="541.75" y2="923.80" stroke-width="2"/>
<line x1="529.60" y1="1040.30" x2="529.60" y2="1048.30" stroke-width="2.0"/>
<rect x="561.20" y="1038.90" width="15.10" height="1.40" fill="#fff" stroke="#000" stroke-width="1.8"/>
<rect x="575.50" y="938.20" width="17.50" height="102.10" fill="#000" stroke="none"/>
<line x1="584.25" y1="935.50" x2="584.25" y2="938.20" stroke-width="2"/>
<line x1="580.05" y1="935.50" x2="588.45" y2="935.50" stroke-width="2"/>
<line x1="576.30" y1="1040.30" x2="576.30" y2="1048.30" stroke-width="2.0"/>
<line x1="507.00" y1="899.00" x2="507.00" y2="1041.30" stroke-width="2.0"/>
<line x1="498.70" y1="993.53" x2="507.00" y2="993.53" stroke-width="2.0"/>
<text x="494.80" y="999.33" font-size="16" text-anchor="end">50</text>
<line x1="498.70" y1="946.77" x2="507.00" y2="946.77" stroke-width="2.0"/>
<text x="494.80" y="952.57" font-size="16" text-anchor="end">100</text>
<line x1="498.70" y1="900.00" x2="507.00" y2="900.00" stroke-width="2.0"/>
<text x="494.80" y="905.80" font-size="16" text-anchor="end">150</text>
<line x1="507.00" y1="1040.30" x2="600.90" y2="1040.30" stroke-width="2.0"/>
<text x="0" y="0" transform="translate(541.40,883.20) scale(0.97,1)" font-size="16.8" font-weight="bold" font-style="italic">TNF</text>
<text x="0" y="0" transform="translate(530.25,1065.00) scale(1.07,1)" font-size="16" text-anchor="middle">Vec.</text>
<text x="0" y="0" transform="translate(581.20,1065.00) scale(1.07,1)" font-size="16" text-anchor="middle">CrmA</text>
<text x="0" y="0" font-size="16.5" text-anchor="middle" transform="translate(61.30,964.50) rotate(-90)">Rel.mRNA</text>
<rect x="611.30" y="916.30" width="8.50" height="8.50" fill="#fff" stroke="#000" stroke-width="2"/>
<text x="0" y="0" transform="translate(626.00,926.00) scale(1.05,1)" font-size="16">Mock</text>
<rect x="610.30" y="941.20" width="10.50" height="10.50" fill="#000" stroke="none"/>
<text x="0" y="0" transform="translate(626.00,953.80) scale(1.05,1)" font-size="16">HSV-1</text>
<line x1="139.50" y1="1132.30" x2="575.50" y2="1132.30" stroke-width="2.2"/>
<text x="333.20" y="1124.00" font-size="16" font-weight="bold">THP-1</text>
<rect x="107.30" y="1311.50" width="15.10" height="0.10" fill="#fff" stroke="#000" stroke-width="1.8"/>
<rect x="121.60" y="1201.00" width="17.30" height="110.60" fill="#000" stroke="none"/>
<line x1="130.25" y1="1200.60" x2="130.25" y2="1201.00" stroke-width="2"/>
<line x1="126.05" y1="1200.60" x2="134.45" y2="1200.60" stroke-width="2"/>
<line x1="122.40" y1="1311.60" x2="122.40" y2="1319.60" stroke-width="2.0"/>
<rect x="168.10" y="1287.20" width="17.30" height="24.40" fill="#000" stroke="none"/>
<line x1="168.90" y1="1311.60" x2="168.90" y2="1319.60" stroke-width="2.0"/>
<line x1="99.10" y1="1170.20" x2="99.10" y2="1312.60" stroke-width="2.0"/>
<line x1="90.80" y1="1311.60" x2="99.10" y2="1311.60" stroke-width="2.0"/>
<text x="86.20" y="1317.50" font-size="16" text-anchor="end">0</text>
<line x1="90.80" y1="1283.52" x2="99.10" y2="1283.52" stroke-width="2.0"/>
<text x="86.20" y="1289.42" font-size="16" text-anchor="end">50</text>
<line x1="90.80" y1="1255.44" x2="99.10" y2="1255.44" stroke-width="2.0"/>
<text x="86.20" y="1261.34" font-size="16" text-anchor="end">100</text>
<line x1="90.80" y1="1227.36" x2="99.10" y2="1227.36" stroke-width="2.0"/>
<text x="86.20" y="1233.26" font-size="16" text-anchor="end">150</text>
<line x1="90.80" y1="1199.28" x2="99.10" y2="1199.28" stroke-width="2.0"/>
<text x="86.20" y="1205.18" font-size="16" text-anchor="end">200</text>
<line x1="90.80" y1="1171.20" x2="99.10" y2="1171.20" stroke-width="2.0"/>
<text x="86.20" y="1177.10" font-size="16" text-anchor="end">250</text>
<line x1="90.80" y1="1311.60" x2="229.10" y2="1311.60" stroke-width="2.0"/>
<text x="0" y="0" transform="translate(126.70,1154.20) scale(0.97,1)" font-size="16.8" font-weight="bold" font-style="italic">IFNB1</text>
<line x1="130.80" y1="1189.00" x2="177.80" y2="1189.00" stroke-width="2"/>
<text x="154.45" y="1185.90" font-size="15.5" text-anchor="middle" letter-spacing="0.7" stroke="#000" stroke-width="0.35">***</text>
<text x="0" y="0" transform="translate(122.55,1336.00) scale(1.07,1)" font-size="16" text-anchor="middle">Vec.</text>
<text x="0" y="0" transform="translate(173.80,1336.00) scale(1.07,1)" font-size="16" text-anchor="middle">CrmA</text>
<rect x="237.20" y="1310.30" width="15.10" height="1.30" fill="#fff" stroke="#000" stroke-width="1.8"/>
<rect x="251.50" y="1213.10" width="17.30" height="98.50" fill="#000" stroke="none"/>
<line x1="260.15" y1="1210.20" x2="260.15" y2="1213.10" stroke-width="2"/>
<line x1="255.95" y1="1210.20" x2="264.35" y2="1210.20" stroke-width="2"/>
<line x1="252.30" y1="1311.60" x2="252.30" y2="1319.60" stroke-width="2.0"/>
<rect x="284.10" y="1309.50" width="15.10" height="2.10" fill="#fff" stroke="#000" stroke-width="1.8"/>
<rect x="298.40" y="1293.00" width="17.30" height="18.60" fill="#000" stroke="none"/>
<line x1="299.20" y1="1311.60" x2="299.20" y2="1319.60" stroke-width="2.0"/>
<line x1="229.10" y1="1170.20" x2="229.10" y2="1312.60" stroke-width="2.0"/>
<line x1="220.80" y1="1276.50" x2="229.10" y2="1276.50" stroke-width="2.0"/>
<text x="217.10" y="1282.40" font-size="16" text-anchor="end">20</text>
<line x1="220.80" y1="1241.40" x2="229.10" y2="1241.40" stroke-width="2.0"/>
<text x="217.10" y="1247.30" font-size="16" text-anchor="end">40</text>
<line x1="220.80" y1="1206.30" x2="229.10" y2="1206.30" stroke-width="2.0"/>
<text x="217.10" y="1212.20" font-size="16" text-anchor="end">60</text>
<line x1="220.80" y1="1171.20" x2="229.10" y2="1171.20" stroke-width="2.0"/>
<text x="217.10" y="1177.10" font-size="16" text-anchor="end">80</text>
<line x1="229.10" y1="1311.60" x2="381.10" y2="1311.60" stroke-width="2.0"/>
<text x="0" y="0" transform="translate(248.10,1154.20) scale(0.97,1)" font-size="16.8" font-weight="bold" font-style="italic">RANTES</text>
<line x1="259.60" y1="1200.10" x2="306.60" y2="1200.10" stroke-width="2"/>
<text x="284.25" y="1197.40" font-size="15.5" text-anchor="middle" letter-spacing="0.7" stroke="#000" stroke-width="0.35">***</text>
<text x="0" y="0" transform="translate(252.80,1336.00) scale(1.07,1)" font-size="16" text-anchor="middle">Vec.</text>
<text x="0" y="0" transform="translate(304.10,1336.00) scale(1.07,1)" font-size="16" text-anchor="middle">CrmA</text>
<rect x="403.60" y="1195.30" width="17.30" height="116.30" fill="#000" stroke="none"/>
<line x1="412.25" y1="1194.20" x2="412.25" y2="1195.30" stroke-width="2"/>
<line x1="408.05" y1="1194.20" x2="416.45" y2="1194.20" stroke-width="2"/>
<line x1="404.40" y1="1311.60" x2="404.40" y2="1319.60" stroke-width="2.0"/>
<rect x="450.00" y="1268.80" width="17.30" height="42.80" fill="#000" stroke="none"/>
<line x1="458.65" y1="1267.00" x2="458.65" y2="1268.80" stroke-width="2"/>
<line x1="454.45" y1="1267.00" x2="462.85" y2="1267.00" stroke-width="2"/>
<line x1="450.80" y1="1311.60" x2="450.80" y2="1319.60" stroke-width="2.0"/>
<line x1="381.10" y1="1170.20" x2="381.10" y2="1312.60" stroke-width="2.0"/>
<line x1="372.80" y1="1276.50" x2="381.10" y2="1276.50" stroke-width="2.0"/>
<text x="367.60" y="1282.40" font-size="16" text-anchor="end">2000</text>
<line x1="372.80" y1="1241.40" x2="381.10" y2="1241.40" stroke-width="2.0"/>
<text x="367.60" y="1247.30" font-size="16" text-anchor="end">4000</text>
<line x1="372.80" y1="1206.30" x2="381.10" y2="1206.30" stroke-width="2.0"/>
<text x="367.60" y="1212.20" font-size="16" text-anchor="end">6000</text>
<line x1="372.80" y1="1171.20" x2="381.10" y2="1171.20" stroke-width="2.0"/>
<text x="367.60" y="1177.10" font-size="16" text-anchor="end">8000</text>
<line x1="381.10" y1="1311.60" x2="526.30" y2="1311.60" stroke-width="2.0"/>
<text x="0" y="0" transform="translate(396.70,1154.20) scale(0.97,1)" font-size="16.8" font-weight="bold" font-style="italic">CXCL10</text>
<line x1="412.60" y1="1186.40" x2="459.30" y2="1186.40" stroke-width="2"/>
<text x="437.25" y="1184.10" font-size="15.5" text-anchor="middle" letter-spacing="0.7" stroke="#000" stroke-width="0.35">***</text>
<text x="0" y="0" transform="translate(404.35,1336.00) scale(1.07,1)" font-size="16" text-anchor="middle">Vec.</text>
<text x="0" y="0" transform="translate(455.65,1336.00) scale(1.07,1)" font-size="16" text-anchor="middle">CrmA</text>
<rect x="534.10" y="1311.70" width="15.10" height="0.10" fill="#fff" stroke="#000" stroke-width="1.8"/>
<rect x="548.40" y="1189.80" width="17.30" height="121.80" fill="#000" stroke="none"/>
<line x1="557.05" y1="1183.50" x2="557.05" y2="1189.80" stroke-width="2"/>
<line x1="552.85" y1="1183.50" x2="561.25" y2="1183.50" stroke-width="2"/>
<line x1="549.20" y1="1311.60" x2="549.20" y2="1319.60" stroke-width="2.0"/>
<rect x="580.90" y="1311.70" width="15.10" height="0.10" fill="#fff" stroke="#000" stroke-width="1.8"/>
<rect x="595.20" y="1200.80" width="17.30" height="110.80" fill="#000" stroke="none"/>
<line x1="603.85" y1="1194.80" x2="603.85" y2="1200.80" stroke-width="2"/>
<line x1="599.65" y1="1194.80" x2="608.05" y2="1194.80" stroke-width="2"/>
<line x1="596.00" y1="1311.60" x2="596.00" y2="1319.60" stroke-width="2.0"/>
<line x1="526.30" y1="1170.20" x2="526.30" y2="1312.60" stroke-width="2.0"/>
<line x1="518.00" y1="1276.50" x2="526.30" y2="1276.50" stroke-width="2.0"/>
<text x="513.50" y="1282.40" font-size="16" text-anchor="end">50</text>
<line x1="518.00" y1="1241.40" x2="526.30" y2="1241.40" stroke-width="2.0"/>
<text x="513.50" y="1247.30" font-size="16" text-anchor="end">100</text>
<line x1="518.00" y1="1206.30" x2="526.30" y2="1206.30" stroke-width="2.0"/>
<text x="513.50" y="1212.20" font-size="16" text-anchor="end">150</text>
<line x1="518.00" y1="1171.20" x2="526.30" y2="1171.20" stroke-width="2.0"/>
<text x="513.50" y="1177.10" font-size="16" text-anchor="end">200</text>
<line x1="526.30" y1="1311.60" x2="619.30" y2="1311.60" stroke-width="2.0"/>
<text x="0" y="0" transform="translate(561.20,1154.00) scale(0.97,1)" font-size="16.8" font-weight="bold" font-style="italic">TNF</text>
<text x="0" y="0" transform="translate(549.25,1336.00) scale(1.07,1)" font-size="16" text-anchor="middle">Vec.</text>
<text x="0" y="0" transform="translate(600.45,1336.00) scale(1.07,1)" font-size="16" text-anchor="middle">CrmA</text>
<text x="0" y="0" font-size="16.5" text-anchor="middle" transform="translate(51.80,1236.30) rotate(-90)">Rel.mRNA</text>
<rect x="627.60" y="1199.10" width="8.50" height="8.50" fill="#fff" stroke="#000" stroke-width="2"/>
<text x="0" y="0" transform="translate(642.50,1209.00) scale(1.05,1)" font-size="16">Mock</text>
<rect x="626.60" y="1224.10" width="10.50" height="10.50" fill="#000" stroke="none"/>
<text x="0" y="0" transform="translate(642.90,1236.50) scale(1.05,1)" font-size="16">SeV</text>
</svg>
</body></html>
